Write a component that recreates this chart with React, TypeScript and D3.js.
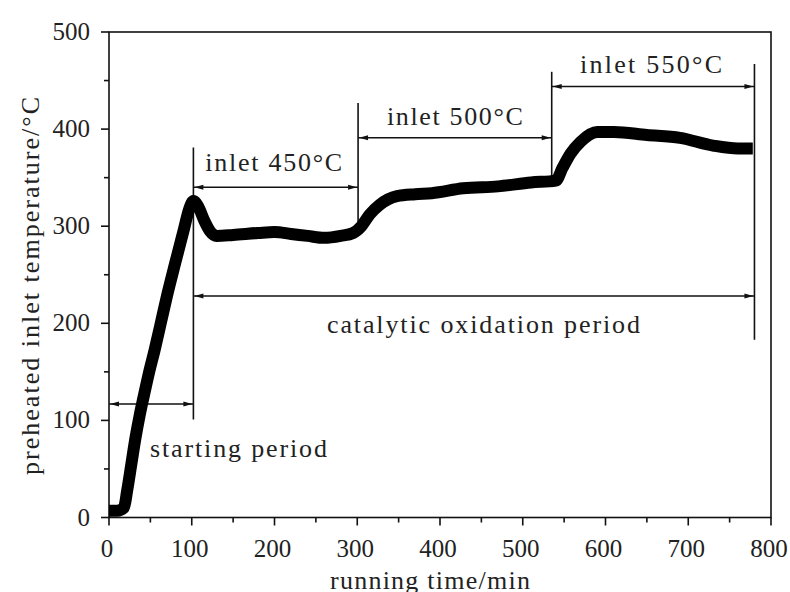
import React from "react";
import * as d3 from "d3";

// Preheated inlet temperature over running time
const timeMin: number[] = [
  0, 10, 18, 22, 27, 32, 37, 42, 48, 55, 62, 70, 80, 90, 97, 102, 108, 115, 122, 130,
  150, 180, 200, 220, 240, 260, 280, 295, 305, 315, 327, 348, 370, 390, 428, 470, 510,
  540, 548, 558, 570, 590, 610, 650, 690, 730, 760, 778,
];
const tempC: number[] = [
  7, 7, 10, 28, 55, 82, 105, 125, 148, 172, 198, 228, 262, 295, 318, 326, 320, 306, 295, 290,
  291, 293, 294, 292, 290, 288, 290, 293, 300, 312, 322, 331, 333, 334, 339, 341, 345,
  347, 360, 375, 387, 397, 397, 394, 391, 383, 380, 380,
];

const xTicks: number[] = [0, 100, 200, 300, 400, 500, 600, 700, 800];
const xMinorTicks: number[] = [50, 150, 250, 350, 450, 550, 650, 750];
const yTicks: number[] = [0, 100, 200, 300, 400, 500];
const yMinorTicks: number[] = [50, 150, 250, 350, 450];

// Period boundaries (min) and the vertical extent (°C) of each marker line
const boundaries: number[] = [102, 301, 535, 780];
const boundaryTop: number[] = [381, 427, 459, 467];
const boundaryBottom: number[] = [101, 294, 341, 183];

// Span arrows: start, end (min), level (°C)
const spanStart: number[] = [0, 102, 301, 535, 102];
const spanEnd: number[] = [102, 301, 535, 780, 780];
const spanLevel: number[] = [117, 340, 391, 444, 228];

// Text labels: text, anchor position (min, °C), width in px
const labelText: string[] = ["starting period", "inlet 450°C", "inlet 500°C", "inlet 550°C", "catalytic oxidation period"];
const labelX: number[] = [49.5, 199, 418, 655, 452.5];
const labelY: number[] = [62, 357, 404, 458, 190];
const labelAnchor: string[] = ["start", "middle", "middle", "middle", "middle"];
const labelWidth: number[] = [177, 137, 136, 142, 313];

const W = 790;
const H = 592;
const left = 109;
const right = 771;
const top = 32;
const bottom = 517.5;

const FONT = "'Liberation Serif', 'Times New Roman', serif";

export default function App() {
  const x = d3.scaleLinear().domain([0, 800]).range([left, right]);
  const y = d3.scaleLinear().domain([0, 500]).range([bottom, top]);

  const line = d3
    .line<number>()
    .x((_, i) => x(timeMin[i]))
    .y((d) => y(d))
    .curve(d3.curveMonotoneX);

  const arrowHead = (tipX: number, tipY: number, dir: number) => {
    const len = 9;
    const half = 2.5;
    return `M${tipX},${tipY} L${tipX - dir * len},${tipY - half} L${tipX - dir * len},${tipY + half} Z`;
  };

  return (
    <svg
      width={W}
      height={H}
      style={{ position: "absolute", left: 0, top: 0, background: "#fff" }}
      fontFamily={FONT}
    >
      <rect x={0} y={0} width={W} height={H} fill="#fff" />

      {/* frame */}
      <rect
        x={left}
        y={top}
        width={right - left}
        height={bottom - top}
        fill="none"
        stroke="#111"
        strokeWidth={1.6}
      />

      {/* y axis ticks */}
      {yTicks.map((t) => (
        <g key={"yt" + t}>
          <line x1={left - 8} x2={left} y1={y(t)} y2={y(t)} stroke="#111" strokeWidth={1.6} />
          <text x={90} y={y(t) + 8} textAnchor="end" fontSize={25} fill="#222">
            {t}
          </text>
        </g>
      ))}
      {yMinorTicks.map((t) => (
        <line key={"ym" + t} x1={left - 5} x2={left} y1={y(t)} y2={y(t)} stroke="#111" strokeWidth={1.6} />
      ))}

      {/* x axis ticks */}
      {xTicks.map((t) => (
        <g key={"xt" + t}>
          <line x1={x(t)} x2={x(t)} y1={bottom} y2={bottom + 8} stroke="#111" strokeWidth={1.6} />
          <text x={x(t) - 2} y={557} textAnchor="middle" fontSize={25} fill="#222">
            {t}
          </text>
        </g>
      ))}
      {xMinorTicks.map((t) => (
        <line key={"xm" + t} x1={x(t)} x2={x(t)} y1={bottom} y2={bottom + 5} stroke="#111" strokeWidth={1.6} />
      ))}

      {/* axis titles */}
      <text x={430} y={589} textAnchor="middle" fontSize={26} fill="#222" textLength={200} lengthAdjust="spacing">
        running time/min
      </text>
      <text
        transform={`translate(39,286) rotate(-90)`}
        textAnchor="middle"
        fontSize={26}
        fill="#222"
        textLength={378}
        lengthAdjust="spacing"
      >
        preheated inlet temperature/°C
      </text>

      {/* period boundary lines */}
      {boundaries.map((b, i) => (
        <line
          key={"b" + i}
          x1={x(b)}
          x2={x(b)}
          y1={y(boundaryTop[i])}
          y2={y(boundaryBottom[i])}
          stroke="#111"
          strokeWidth={1.6}
        />
      ))}

      {/* span arrows */}
      {spanStart.map((s, i) => {
        const x0 = x(s);
        const x1 = x(spanEnd[i]);
        const yy = y(spanLevel[i]);
        return (
          <g key={"s" + i}>
            <line x1={x0} x2={x1} y1={yy} y2={yy} stroke="#111" strokeWidth={1.5} />
            <path d={arrowHead(x0 + 1, yy, -1)} fill="#111" />
            <path d={arrowHead(x1 - 1, yy, 1)} fill="#111" />
          </g>
        );
      })}

      {/* temperature curve */}
      <path
        d={line(tempC) ?? ""}
        fill="none"
        stroke="#000"
        strokeWidth={12}
        strokeLinejoin="round"
        strokeLinecap="butt"
      />

      {/* labels */}
      {labelText.map((t, i) => (
        <text
          key={"l" + i}
          x={x(labelX[i])}
          y={y(labelY[i])}
          textAnchor={labelAnchor[i] as any}
          fontSize={26}
          fill="#222"
          textLength={labelWidth[i]}
          lengthAdjust="spacing"
        >
          {t}
        </text>
      ))}
    </svg>
  );
}
